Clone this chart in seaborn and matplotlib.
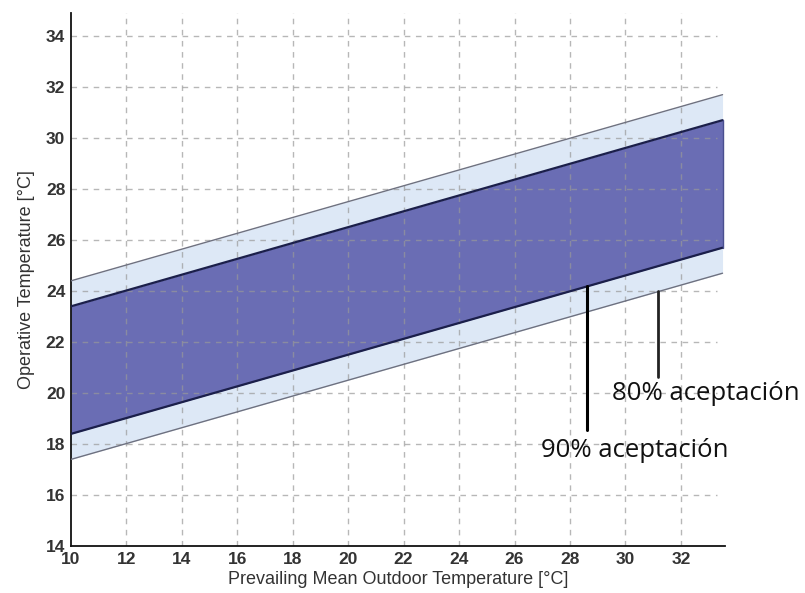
import numpy as np
import pandas as pd
import matplotlib
matplotlib.use("Agg")
import matplotlib.pyplot as plt
import seaborn as sns

# Adaptive comfort band limits
x_out = [10, 33.5]
upper_80 = [24.4, 31.7]
upper_90 = [23.4, 30.7]
lower_90 = [18.4, 25.7]
lower_80 = [17.4, 24.7]

x_ticks = list(range(10, 33, 2))
y_ticks = list(range(14, 35, 2))

label_90 = "90% aceptación"
label_80 = "80% aceptación"

sns.set_theme(style="white")
plt.rcParams['font.family'] = ['Liberation Sans', 'DejaVu Sans']

df = pd.DataFrame({"x": x_out, "u80": upper_80, "u90": upper_90,
                   "l90": lower_90, "l80": lower_80})

fig = plt.figure(figsize=(8.05, 5.93), dpi=100)
ax = fig.add_axes([0.088, 0.079, 0.813, 0.899])

light = "#dde8f6"
dark = "#6a6db4"
ax.fill_between(df["x"], df["l80"], df["u80"], color=light, zorder=1, lw=0)
ax.fill_between(df["x"], df["l90"], df["u90"], color=dark, zorder=1.5, lw=0)

sns.lineplot(data=df, x="x", y="u80", ax=ax, color="#6e7180", lw=1.0, zorder=3)
sns.lineplot(data=df, x="x", y="l80", ax=ax, color="#6e7180", lw=1.0, zorder=3)
sns.lineplot(data=df, x="x", y="u90", ax=ax, color="#1b1f4a", lw=1.6, zorder=3)
sns.lineplot(data=df, x="x", y="l90", ax=ax, color="#1b1f4a", lw=1.6, zorder=3)
# right edge of dark band
ax.plot([x_out[1], x_out[1]], [lower_90[1], upper_90[1]], color="#4a4f8f", lw=1.0, zorder=3)

# dashed grid
for xv in x_ticks[1:]:
    ax.plot([xv, xv], [14, 35], color="#999999", lw=1.0, ls=(0, (4, 4)), alpha=0.7, zorder=2)
for yv in y_ticks[1:]:
    ax.plot([10, 33.3], [yv, yv], color="#999999", lw=1.0, ls=(0, (4, 4)), alpha=0.7, zorder=2)

ax.set_xlim(10, 33.6)
ax.set_ylim(14, 34.9)
ax.set_xticks(x_ticks)
ax.set_yticks(y_ticks)
ax.tick_params(axis="both", length=0, labelsize=12.5, pad=4, colors="#222222")
for lab in ax.get_xticklabels() + ax.get_yticklabels():
    lab.set_fontweight("bold")
    lab.set_color("#333333")

for s in ["top", "right"]:
    ax.spines[s].set_visible(False)
for s in ["left", "bottom"]:
    ax.spines[s].set_color("#111111")
    ax.spines[s].set_linewidth(1.3)

ax.set_xlabel("Prevailing Mean Outdoor Temperature [°C]", fontsize=13, color="#333333", labelpad=3)
ax.set_ylabel("Operative Temperature [°C]", fontsize=13, color="#333333", labelpad=8)

# annotation leader lines and labels
ax.plot([28.63, 28.63], [24.2, 18.55], color="black", lw=2.2, zorder=4)
ax.plot([31.19, 31.19], [24.0, 20.65], color="#222222", lw=2.0, zorder=4)
ax.text(30.35, 17.75, label_90, fontsize=18.5, family=["Open Sans", "DejaVu Sans"],
        ha="center", va="center", color="#111111", clip_on=False, zorder=5)
ax.text(32.9, 20.0, label_80, fontsize=18.5, family=["Open Sans", "DejaVu Sans"],
        ha="center", va="center", color="#111111", clip_on=False, zorder=5)

fig.savefig("out.png", dpi=100)
